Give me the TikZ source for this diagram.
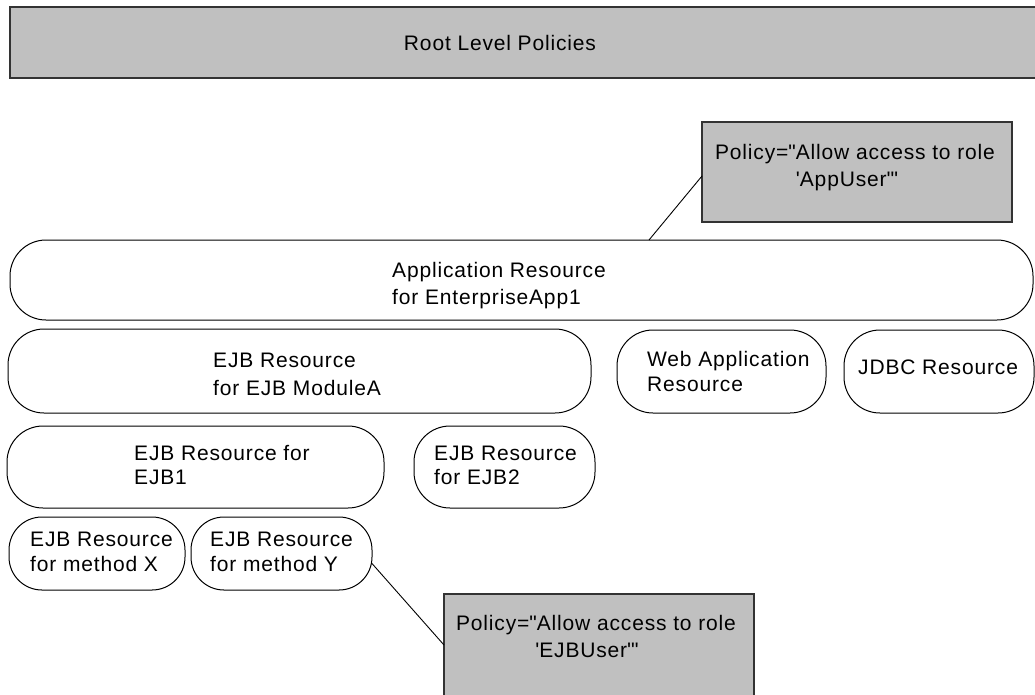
\documentclass[tikz,border=0pt]{standalone}
\usepackage{fontspec}
\setmainfont{Liberation Sans}[LetterSpace=4.0]
\definecolor{boxgray}{HTML}{C0C0C0}
\definecolor{darkline}{HTML}{333333}
\begin{document}
\begin{tikzpicture}[x=1pt,y=-1pt,
  res/.style={draw=black, line width=1pt, fill=white, rounded corners=36pt, anchor=north west, inner sep=0pt, outer sep=0pt},
  smallres/.style={res, rounded corners=33pt},
  gbox/.style={draw=darkline, line width=1.6pt, fill=boxgray, anchor=north west, inner sep=0pt, outer sep=0pt},
  txt/.style={inner sep=0pt, anchor=base west, font=\fontsize{21}{27}\selectfont, text=black},
  ctxt/.style={txt, anchor=base},
  conn/.style={draw=black, line width=0.9pt}
]
\useasboundingbox (0,0) rectangle (1035,694);
\clip (0,0) rectangle (1035,694);
\fill[white] (0,0) rectangle (1035,694);

% boxes
\node[gbox, minimum width=1040pt, minimum height=71pt] (root) at (10,7) {};
\node[gbox, minimum width=310pt, minimum height=100pt] (pol1) at (702,122) {};
\node[res, minimum width=1023pt, minimum height=80pt] (app) at (10,240) {};
\node[res, minimum width=583pt, minimum height=84pt] (mod) at (8,329) {};
\node[res, minimum width=209pt, minimum height=83pt] (web) at (617,330) {};
\node[res, minimum width=190pt, minimum height=83pt] (jdbc) at (844,330) {};
\node[res, minimum width=377pt, minimum height=82pt] (ejb1) at (7,426) {};
\node[res, minimum width=181pt, minimum height=82pt] (ejb2) at (414,426) {};
\node[smallres, minimum width=176pt, minimum height=73pt] (methx) at (9,517) {};
\node[smallres, minimum width=181pt, minimum height=73pt] (methy) at (191,517) {};
\node[gbox, minimum width=310pt, minimum height=102pt] (pol2) at (444,594) {};

% connectors
\draw[conn] ([xshift=639pt]app.north west) -- ([yshift=-4pt]pol1.west);
\draw[conn] ([yshift=-10pt]methy.east) -- (pol2.west);

% texts
\node[ctxt] (troot) at (500,50) {Root Level Policies};
\node[ctxt] (tp1a) at (855,159) {Policy=\textquotedbl Allow access to role};
\node[ctxt] (tp1b) at (847,186) {\textquotesingle AppUser\textquotesingle\textquotedbl};
\node[txt] (tapa) at (392,277) {Application Resource};
\node[txt] (tapb) at (392,304) {for EnterpriseApp1};
\node[txt] (tmoa) at (213,367) {EJB Resource};
\node[txt] (tmob) at (213,395) {for EJB ModuleA};
\node[txt] (tweba) at (647,366) {Web Application};
\node[txt] (twebb) at (647,391) {Resource};
\node[txt] (tjdbc) at (858,374) {JDBC Resource};
\node[txt] (te1a) at (134,460) {EJB Resource for};
\node[txt] (te1b) at (134,484) {EJB1};
\node[txt] (te2a) at (434,460) {EJB Resource};
\node[txt] (te2b) at (434,484) {for EJB2};
\node[txt] (tmxa) at (30,546) {EJB Resource};
\node[txt] (tmxb) at (30,571) {for method X};
\node[txt] (tmya) at (210,546) {EJB Resource};
\node[txt] (tmyb) at (210,571) {for method Y};
\node[ctxt] (tp2a) at (596,630) {Policy=\textquotedbl Allow access to role};
\node[ctxt] (tp2b) at (587,657) {\textquotesingle EJBUser\textquotesingle\textquotedbl};
\end{tikzpicture}
\end{document}
